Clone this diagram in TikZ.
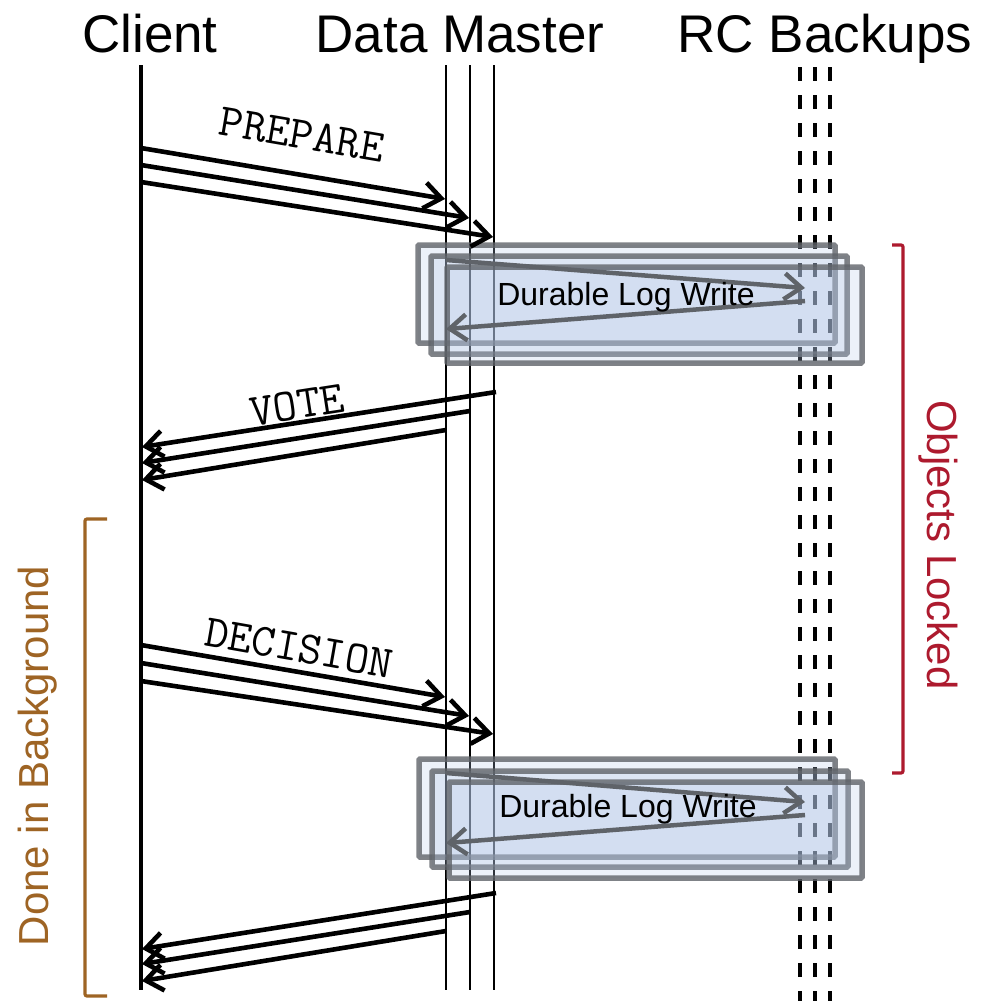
\documentclass[tikz,border=0pt]{standalone}
\usepackage{fontspec}
\setmainfont{Liberation Sans}
\usetikzlibrary{arrows.meta}
\definecolor{lockred}{HTML}{AD1A2E}
\definecolor{bgbrown}{HTML}{9E6424}
\definecolor{logfill}{HTML}{B4C7E7}
\definecolor{loggray}{HTML}{5F6369}
\begin{document}
\begin{tikzpicture}[x=1pt,y=-1pt,
  hdr/.style={font=\fontsize{53}{60}\selectfont, anchor=base, inner sep=0pt},
  life/.style={line width=3.3pt},
  dmlife/.style={line width=2.5pt},
  bklife/.style={line width=3.4pt, dash pattern=on 14pt off 14pt},
  msg/.style={line width=4.6pt, -{Straight Barb[length=17pt,width=26pt]}},
  msglabel/.style={font=\ttfamily\fontsize{46}{52}\selectfont, inner sep=0pt},
  logbox/.style={draw=loggray, draw opacity=0.8, line width=5.5pt, fill=logfill, fill opacity=0.26, rounded corners=1pt},
  logmsg/.style={draw=loggray, line width=4.5pt, -{Straight Barb[length=17pt,width=26pt]}},
  loglabel/.style={font=\fontsize{32}{38}\selectfont, inner sep=0pt},
  bracketline/.style={line width=3.2pt, rounded corners=2pt},
  sidelabel/.style={font=\fontsize{42}{48}\selectfont, inner sep=0pt}
]
\useasboundingbox (0,0) rectangle (992,1001);

% headers
\node[hdr] (hclient) at (150,52) {Client};
\node[hdr] (hdm) at (460,52) {Data Master};
\node[hdr] (hrc) at (825,52) {RC Backups};

% lifelines
\coordinate (cT) at (141,65);  \coordinate (cB) at (141,990);
\coordinate (d1T) at (446,65); \coordinate (d1B) at (446,990);
\coordinate (d2T) at (470,65); \coordinate (d2B) at (470,990);
\coordinate (d3T) at (494,65); \coordinate (d3B) at (494,990);
\coordinate (b1T) at (800,67); \coordinate (b1B) at (800,1001);
\coordinate (b2T) at (815,67); \coordinate (b2B) at (815,1001);
\coordinate (b3T) at (830,67); \coordinate (b3B) at (830,1001);
\draw[life] (cT) -- (cB);
\draw[dmlife] (d1T) -- (d1B);
\draw[dmlife] (d2T) -- (d2B);
\draw[dmlife] (d3T) -- (d3B);
\draw[bklife] (b1T) -- (b1B);
\draw[bklife] (b2T) -- (b2B);
\draw[bklife] (b3T) -- (b3B);

% log write boxes (top)
\draw[logbox] (418,245) rectangle (835,343);
\draw[logbox] (431,256) rectangle (847,354);
\draw[logbox] (447,267) rectangle (862,363);
\coordinate (lw1a) at (446,260); \coordinate (lw1b) at (805,288);
\coordinate (lw1c) at (805,301); \coordinate (lw1d) at (446,329);
\draw[logmsg] (lw1a) -- (lw1b);
\draw[logmsg] (lw1c) -- (lw1d);
\node[loglabel] (log1) at (626,297) {Durable Log Write};

% log write boxes (bottom)
\draw[logbox] (419,759) rectangle (835,857);
\draw[logbox] (432,771) rectangle (848,867);
\draw[logbox] (449,782) rectangle (862,878);
\coordinate (lw2a) at (446,773); \coordinate (lw2b) at (805,802);
\coordinate (lw2c) at (805,815); \coordinate (lw2d) at (446,843);
\draw[logmsg] (lw2a) -- (lw2b);
\draw[logmsg] (lw2c) -- (lw2d);
\node[loglabel] (log2) at (628,809) {Durable Log Write};

% PREPARE
\coordinate (p1s) at (141,148); \coordinate (p1e) at (445,199);
\coordinate (p2s) at (141,165); \coordinate (p2e) at (469,218);
\coordinate (p3s) at (141,182); \coordinate (p3e) at (493,237);
\draw[msg] (p1s) -- (p1e);
\draw[msg] (p2s) -- (p2e);
\draw[msg] (p3s) -- (p3e);
\node[msglabel, rotate=-9.7] (prep) at (302,135) {PREPARE};

% VOTE
\coordinate (v1s) at (496,392); \coordinate (v1e) at (142,447);
\coordinate (v2s) at (470,411); \coordinate (v2e) at (142,463);
\coordinate (v3s) at (446,430); \coordinate (v3e) at (142,480);
\draw[msg] (v1s) -- (v1e);
\draw[msg] (v2s) -- (v2e);
\draw[msg] (v3s) -- (v3e);
\node[msglabel, rotate=8.8] (vote) at (297,405) {VOTE};

% DECISION
\coordinate (q1s) at (141,645); \coordinate (q1e) at (445,697);
\coordinate (q2s) at (141,663); \coordinate (q2e) at (469,716);
\coordinate (q3s) at (141,681); \coordinate (q3e) at (493,734);
\draw[msg] (q1s) -- (q1e);
\draw[msg] (q2s) -- (q2e);
\draw[msg] (q3s) -- (q3e);
\node[msglabel, rotate=-10] (dec) at (299,648) {DECISION};

% final replies
\coordinate (r1s) at (496,893); \coordinate (r1e) at (142,949);
\coordinate (r2s) at (470,912); \coordinate (r2e) at (142,964);
\coordinate (r3s) at (446,931); \coordinate (r3e) at (142,981);
\draw[msg] (r1s) -- (r1e);
\draw[msg] (r2s) -- (r2e);
\draw[msg] (r3s) -- (r3e);

% Objects Locked bracket
\coordinate (lkA) at (892,245); \coordinate (lkB) at (903,245);
\coordinate (lkC) at (903,773); \coordinate (lkD) at (892,773);
\draw[bracketline, lockred] (lkA) -- (lkB) -- (lkC) -- (lkD);
\node[sidelabel, text=lockred, rotate=-90] (lock) at (938,545) {Objects Locked};

% Done in Background bracket
\coordinate (bgA) at (107,519); \coordinate (bgB) at (85,519);
\coordinate (bgC) at (85,996); \coordinate (bgD) at (107,996);
\draw[bracketline, bgbrown] (bgA) -- (bgB) -- (bgC) -- (bgD);
\node[sidelabel, text=bgbrown, rotate=90] (bgl) at (38,756) {Done in Background};
\end{tikzpicture}
\end{document}
